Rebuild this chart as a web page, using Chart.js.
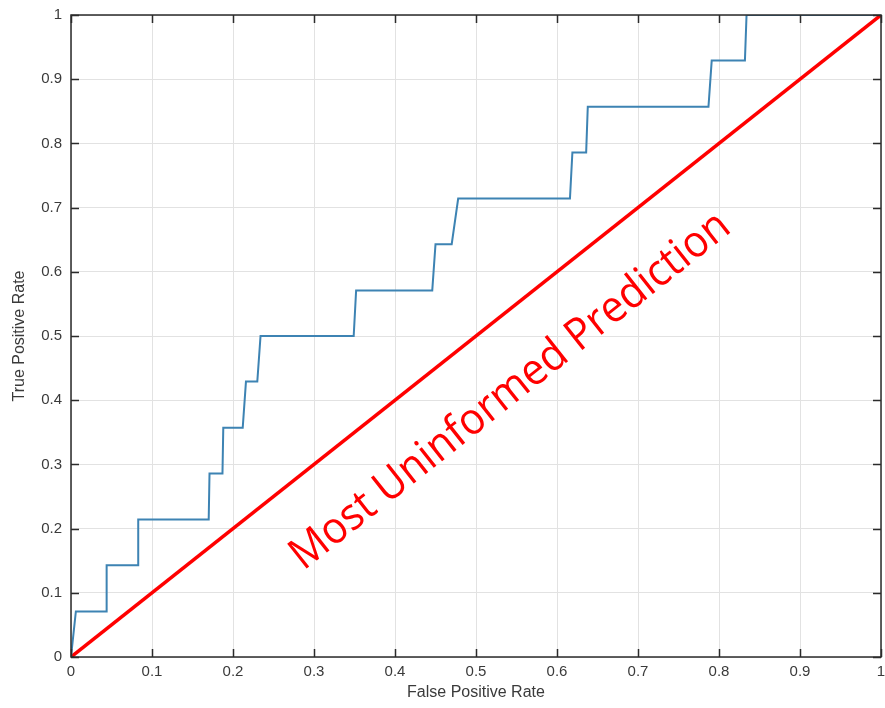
<!DOCTYPE html>
<html>
<head>
<meta charset="utf-8">
<script src="https://cdn.jsdelivr.net/npm/chart.js@4.4.1/dist/chart.umd.min.js"></script>
<style>
  html, body { margin: 0; padding: 0; background: #fff; }
  #wrap { width: 885px; height: 708px; }
</style>
</head>
<body>
<div id="wrap"><canvas id="grafico" width="885" height="708"></canvas></div>
<script>
// ROC curve vertices
const fpr = [0, 0.006, 0.044, 0.044, 0.083, 0.083, 0.170, 0.171, 0.187, 0.188, 0.212, 0.216, 0.230, 0.234,
  0.349, 0.352, 0.446, 0.450, 0.470, 0.478, 0.616, 0.619, 0.636, 0.638, 0.787, 0.791, 0.832, 0.834, 1]
const tpr = [0, 0.071, 0.071, 0.143, 0.143, 0.214, 0.214, 0.286, 0.286, 0.357, 0.357, 0.429, 0.429, 0.5,
  0.5, 0.571, 0.571, 0.643, 0.643, 0.714, 0.714, 0.786, 0.786, 0.857, 0.857, 0.929, 0.929, 1, 1]

// chance line
const chanceX = [0, 1]
const chanceY = [0, 1]

const tickLabels = ["0", "0.1", "0.2", "0.3", "0.4", "0.5", "0.6", "0.7", "0.8", "0.9", "1"]
const tickValues = [0, 0.1, 0.2, 0.3, 0.4, 0.5, 0.6, 0.7, 0.8, 0.9, 1]

const xTitle = "False Positive Rate"
const yTitle = "True Positive Rate"
const noteText = "Most Uninformed Prediction"
const notePos = { x: 0.552, y: 0.399 }

const tickFont = { family: "Liberation Sans, Arial, sans-serif", size: 15 }
const axisColor = "#2b2b2b"

// box + inward ticks, matlab style
const boxPlugin = {
  id: "box",
  afterDatasetsDraw(chart) {
    const { ctx, chartArea: a, scales: { x, y } } = chart
    ctx.save()
    ctx.strokeStyle = axisColor
    ctx.lineWidth = 1.5
    ctx.strokeRect(a.left, a.top, a.right - a.left, a.bottom - a.top)
    ctx.beginPath()
    tickValues.forEach(v => {
      const px = Math.round(x.getPixelForValue(v)) + 0.5
      ctx.moveTo(px, a.bottom); ctx.lineTo(px, a.bottom - 8)
      ctx.moveTo(px, a.top); ctx.lineTo(px, a.top + 8)
      const py = Math.round(y.getPixelForValue(v)) + 0.5
      ctx.moveTo(a.left, py); ctx.lineTo(a.left + 8, py)
      ctx.moveTo(a.right, py); ctx.lineTo(a.right - 8, py)
    })
    ctx.stroke()
    ctx.restore()
  }
}

// rotated red note along the diagonal
const notePlugin = {
  id: "note",
  afterDatasetsDraw(chart) {
    const { ctx, scales: { x, y } } = chart
    const x0 = x.getPixelForValue(0), y0 = y.getPixelForValue(0)
    const x1 = x.getPixelForValue(1), y1 = y.getPixelForValue(1)
    const ang = Math.atan2(y1 - y0, x1 - x0)
    ctx.save()
    ctx.translate(x.getPixelForValue(notePos.x), y.getPixelForValue(notePos.y))
    ctx.rotate(ang)
    ctx.font = "44px 'Open Sans', sans-serif"
    const w = ctx.measureText(noteText).width
    ctx.scale(548 / w, 1)
    ctx.fillStyle = "#ff0000"
    ctx.textAlign = "center"
    ctx.textBaseline = "alphabetic"
    ctx.fillText(noteText, 0, 0)
    ctx.restore()
  }
}

function noPad(s) {
  s.paddingLeft = 0
  s.paddingRight = 0
  s.paddingTop = 0
  s.paddingBottom = 0
}

const ctx = document.getElementById("grafico")

new Chart(ctx, {
  type: "scatter",
  data: {
    datasets: [
      {
        data: fpr.map((v, i) => ({ x: v, y: tpr[i] })),
        showLine: true,
        borderColor: "#3d83b3",
        borderWidth: 2,
        pointRadius: 0,
        tension: 0
      },
      {
        data: chanceX.map((v, i) => ({ x: v, y: chanceY[i] })),
        showLine: true,
        borderColor: "#ff0000",
        borderWidth: 3.5,
        pointRadius: 0,
        tension: 0
      }
    ]
  },
  options: {
    responsive: false,
    animation: false,
    layout: { autoPadding: false, padding: { top: 15, right: 4, left: 0, bottom: 0 } },
    plugins: { legend: { display: false }, tooltip: { enabled: false } },
    scales: {
      x: {
        type: "linear",
        min: 0, max: 1,
        afterFit(s) { s.height = 51; noPad(s) },
        afterBuildTicks(s) { s.ticks = tickValues.map(v => ({ value: v })) },
        grid: { color: "#e2e2e2", lineWidth: 1, drawTicks: false },
        border: { display: false },
        ticks: {
          padding: 6,
          color: "#3a3a3a",
          font: tickFont,
          maxRotation: 0,
          callback: (v, i) => tickLabels[i]
        },
        title: { display: true, text: xTitle, color: "#3a3a3a", font: { family: tickFont.family, size: 16 }, padding: { top: 6, bottom: 6 } }
      },
      y: {
        type: "linear",
        min: 0, max: 1,
        afterFit(s) { s.width = 71; noPad(s) },
        afterBuildTicks(s) { s.ticks = tickValues.map(v => ({ value: v })) },
        grid: { color: "#e2e2e2", lineWidth: 1, drawTicks: false },
        border: { display: false },
        ticks: {
          padding: 9,
          color: "#3a3a3a",
          font: tickFont,
          callback: (v, i) => tickLabels[i]
        },
        title: { display: true, text: yTitle, color: "#3a3a3a", font: { family: tickFont.family, size: 16 }, padding: { top: 10, bottom: 10 } }
      }
    }
  },
  plugins: [boxPlugin, notePlugin]
})
</script>
</body>
</html>
